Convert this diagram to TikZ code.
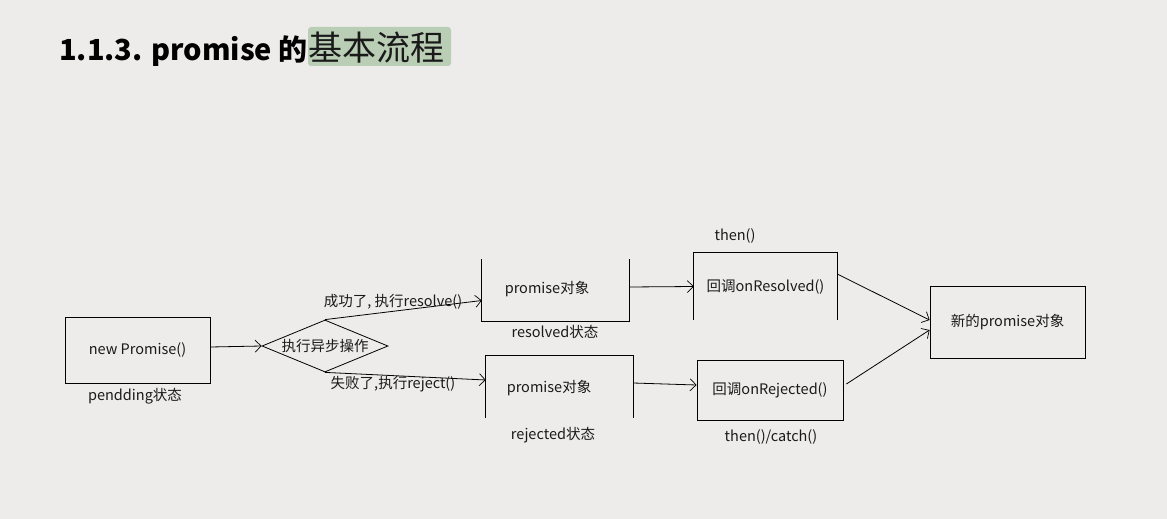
\documentclass[tikz,border=0pt]{standalone}
\usepackage{fontspec}
\setmainfont{Noto Sans CJK SC}
\newfontfamily\cjk{Noto Sans CJK SC}
\usetikzlibrary{shapes.geometric,arrows.meta}
\definecolor{bg}{HTML}{EDECEA}
\definecolor{hl}{HTML}{B9CEB5}
\definecolor{ink}{HTML}{1A1A1A}
\tikzset{
  txt/.style={font=\fontsize{14.5}{17}\selectfont, text=ink, inner sep=0pt},
  lbl/.style={font=\fontsize{14.5}{17}\selectfont, text=ink, inner sep=0pt},
  boxn/.style={txt, minimum width=#1, minimum height=62pt},
  edge/.style={draw=black, line width=0.8pt},
  arr/.style={edge, -{Straight Barb[length=6pt,width=12pt,line width=0.7pt]}},
}
\begin{document}
\begin{tikzpicture}[x=1pt,y=-1pt]
\fill[bg] (0,0) rectangle (1167,519);
\useasboundingbox (0,0) rectangle (1167,519);
% title
\fill[hl, rounded corners=3pt] (308,27) rectangle (451,66);
\node[anchor=base west, inner sep=0pt, text=black, font=\fontsize{29}{33}\selectfont] (title) at (59,60)
  {\textbf{1.1.3. promise 的}\hspace{1pt}\textcolor{ink}{\fontsize{34}{38}\selectfont 基本流程}};
% nodes
\node[txt, draw, line width=0.8pt, minimum width=145pt, minimum height=66pt] (np) at (137.5,350) {new Promise()};
\node[lbl] (pl) at (135,396) {pendding状态};
\node[txt, draw, diamond, line width=0.8pt, minimum width=126pt, minimum height=52pt, aspect=2.42, inner sep=0pt] (dia) at (325,346) {执行异步操作};
\node[boxn=147pt] (b1) at (555.5,290.5) {};
\node[txt] (t1) at (547,289) {promise对象};
\draw[edge] (b1.north west) -- (b1.south west) -- (b1.south east) -- (b1.north east);
\node[lbl] (l1) at (555,332) {resolved状态};
\node[boxn=147pt] (b2) at (559.5,387) {};
\node[txt] (t2) at (549,388) {promise对象};
\draw[edge] (b2.south west) -- (b2.north west) -- (b2.north east) -- (b2.south east);
\node[lbl] (l2) at (553,435) {rejected状态};
\node[txt, minimum width=143pt, minimum height=67pt] (b3) at (765.5,286.5) {回调onResolved()};
\draw[edge] (b3.south west) -- (b3.north west) -- (b3.north east) -- (b3.south east);
\node[lbl] (l3) at (735,236) {then()};
\node[txt, draw, line width=0.8pt, minimum width=146pt, minimum height=60pt] (b4) at (770,390) {回调onRejected()};
\node[lbl] (l4) at (771,437) {then()/catch()};
\node[txt, draw, line width=0.8pt, minimum width=155pt, minimum height=72pt] (b5) at (1007.5,322) {新的promise对象};
% connectors
\draw[arr] ([yshift=3pt]np.east) -- (dia.west);
\draw[arr] (dia.north) -- ([yshift=-10pt]b1.west);
\node[lbl, anchor=base] (s) at (393,306) {成功了, 执行resolve()};
\draw[arr] (dia.south) -- ([yshift=7pt]b2.west);
\node[lbl, anchor=base] (f) at (393,388) {失败了,执行reject()};
\draw[arr] ([yshift=3.5pt]b1.east) -- (b3.west);
\draw[arr] ([yshift=4pt]b2.east) -- ([yshift=5pt]b4.west);
\draw[arr] ([yshift=12.5pt]b3.east) -- ([yshift=2pt]b5.west);
\draw[arr] ([xshift=3pt,yshift=6pt]b4.east) -- ([yshift=-8pt]b5.west);
\end{tikzpicture}
\end{document}
